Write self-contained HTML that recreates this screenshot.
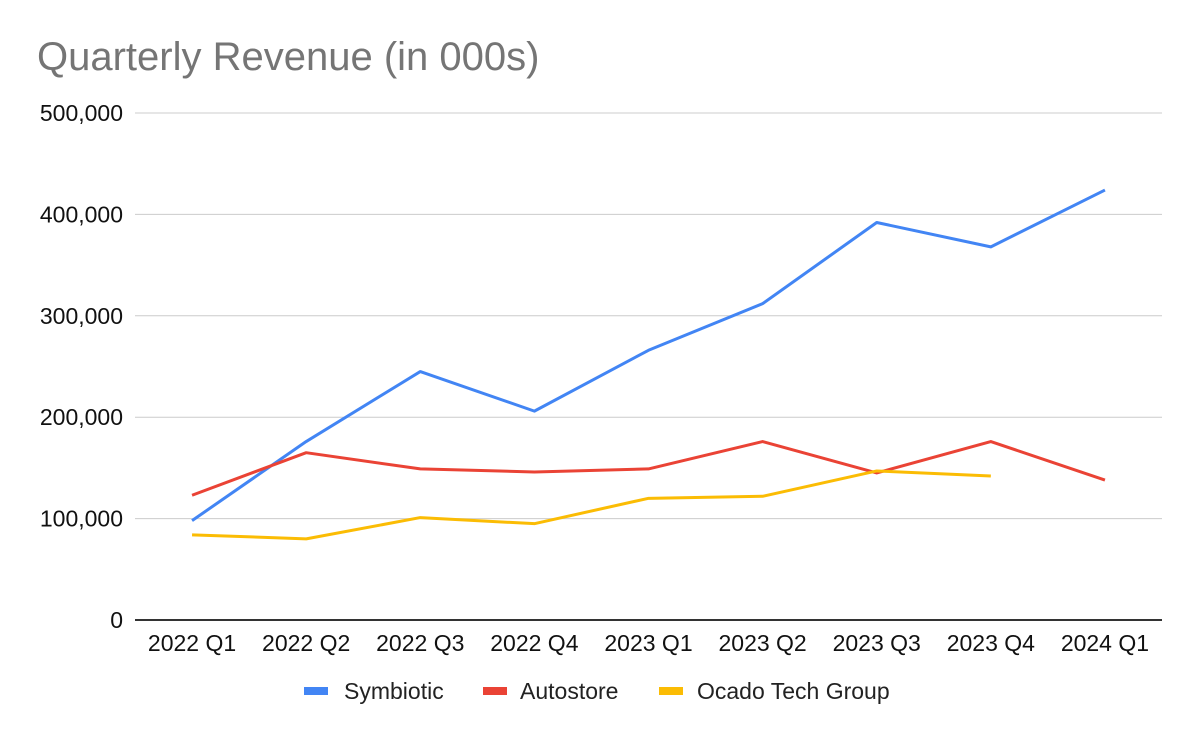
<!DOCTYPE html>
<html><head><meta charset="utf-8">
<style>
html,body{margin:0;padding:0;background:#fff;}
svg{display:block;font-family:"Liberation Sans",Arial,sans-serif;}
</style></head>
<body>
<svg id="chart" width="1200" height="742">
<text x="37" y="70" font-size="40" fill="#757575">Quarterly Revenue (in 000s)</text>
<g id="grid"></g><g id="yticks"></g><g id="xticks"></g><g id="lines"></g><g id="legend"></g>
</svg>
<script>
const categories=["2022 Q1","2022 Q2","2022 Q3","2022 Q4","2023 Q1","2023 Q2","2023 Q3","2023 Q4","2024 Q1"];
const symbiotic=[98000,176000,245000,206000,266000,312000,392000,368000,424000];
const autostore=[123000,165000,149000,146000,149000,176000,145000,176000,138000];
const ocado=[84000,80000,101000,95000,120000,122000,147000,142000,null];
const yTicks=[0,100000,200000,300000,400000,500000];
const yTickLabels=["0","100,000","200,000","300,000","400,000","500,000"];
const seriesNames=["Symbiotic","Autostore","Ocado Tech Group"];
const seriesColors=["#4285f4","#ea4335","#fbbc04"];

const NS="http://www.w3.org/2000/svg";
const L=135,R=1162,T=113,B=620,YMAX=500000;
const band=(R-L)/categories.length;
const x=i=>L+band*(i+0.5);
const y=v=>B-(v/YMAX)*(B-T);
function mk(tag,attrs,parent){const e=document.createElementNS(NS,tag);for(const k in attrs)e.setAttribute(k,attrs[k]);parent.appendChild(e);return e;}
const grid=document.getElementById('grid'),yt=document.getElementById('yticks'),xt=document.getElementById('xticks'),lines=document.getElementById('lines'),leg=document.getElementById('legend');
yTicks.forEach((v,i)=>{
  const ln=mk('line',{x1:L,x2:R,y1:y(v),y2:y(v),stroke:v===0?'#333':'#ccc','stroke-width':v===0?2:1},grid);
  
  
  const t=mk('text',{x:123,y:y(v)+8,'text-anchor':'end','font-size':23,fill:'#111'},yt);
  t.textContent=yTickLabels[i];
  
  
});
categories.forEach((c,i)=>{
  const t=mk('text',{x:x(i),y:651,'text-anchor':'middle','font-size':23,fill:'#111'},xt);
  t.textContent=c;
  
  
});
[symbiotic,autostore,ocado].forEach((s,si)=>{
  let d='',started=false;
  s.forEach((v,i)=>{if(v==null){started=false;return;}d+=(started?'L':'M')+x(i)+','+y(v);started=true;});
  const p=mk('path',{d:d,fill:'none',stroke:seriesColors[si],'stroke-width':3,'stroke-linejoin':'round'},lines);
  
  
});
const legX=[304,483,659];
const legTX=[344,520,697];
seriesNames.forEach((n,i)=>{
  const g=mk('g',{},leg);
  
  
  mk('rect',{x:legX[i],y:687,width:24,height:8,fill:seriesColors[i]},g);
  const t=mk('text',{x:legTX[i],y:699,'font-size':23,fill:'#222'},g);
  t.textContent=n;
});
</script>
</body></html>
